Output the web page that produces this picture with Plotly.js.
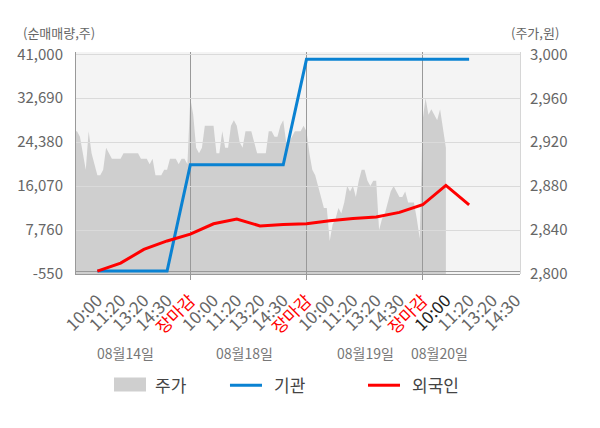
<!DOCTYPE html>
<html>
<head>
<meta charset="utf-8">
<script src="https://cdn.plot.ly/plotly-3.0.1.min.js"></script>
<style>html,body{margin:0;padding:0;background:#fff;}#chart{width:600px;height:428px;}</style>
</head>
<body>
<div id="chart"></div>
<script>
// ---- data ----
const dayLabels = ['08월14일', '08월18일', '08월19일', '08월20일'];
const timeLabels = ['10:00', '11:20', '13:20', '14:30', '장마감'];

// stock price (won), sampled 40 times per trading day
const price0814 = [2930,2930,2925,2910,2895,2930,2910,2900,2890,2890,
                   2895,2915,2910,2905,2905,2905,2905,2910,2910,2910,
                   2910,2910,2910,2905,2905,2905,2900,2905,2890,2890,
                   2890,2895,2895,2905,2905,2905,2900,2905,2905,2900];
const price0818 = [2960,2945,2915,2910,2915,2935,2935,2935,2935,2910,
                   2910,2930,2915,2915,2935,2940,2935,2920,2915,2930,
                   2930,2930,2920,2910,2910,2910,2910,2930,2930,2925,
                   2925,2935,2940,2920,2920,2925,2930,2930,2930,2935];
const price0819 = [2930,2910,2895,2890,2880,2870,2860,2860,2830,2845,
                   2850,2860,2855,2865,2880,2875,2880,2870,2885,2895,
                   2895,2885,2880,2885,2885,2840,2850,2855,2865,2875,
                   2880,2875,2870,2870,2875,2865,2865,2865,2850,2832];
const price0820 = [2940,2960,2945,2950,2945,2940,2950,2930,2915];

// net buying volume (shares), one value per time label slot
const foreignNet = [0,1500,4100,5700,7000,8950,9850,8550,8800,8950,9500,9950,10230,11100,12540,16200,12540];
const instNet    = [0,0,0,0,20100,20100,20100,20100,20100,40050,40050,40050,40050,40050,40050,40100,40050];

const leftTicks  = [-550, 7760, 16070, 24380, 32690, 41000];
const rightTicks = [2800, 2840, 2880, 2920, 2960, 3000];

// ---- build ----
const fmt = v => v.toLocaleString('en-US');
const slotsPerDay = timeLabels.length;      // 5 label slots per day
const priceDays = [price0814, price0818, price0819, price0820];
const samplesPerDay = 40;
const px = [], py = [];
priceDays.forEach((arr, d) => {
  arr.forEach((v, i) => {
    px.push(d * slotsPerDay + i * slotsPerDay / samplesPerDay);
    py.push(v);
  });
});
const flowX = foreignNet.map((_, i) => i + 1);

const tickvals = [], ticktext = [];
const xMax = 19.19;
for (let d = 0; d < dayLabels.length; d++) {
  timeLabels.forEach((t, k) => {
    const v = d * slotsPerDay + k + 1;
    if (v > xMax) return;
    tickvals.push(v);
    let txt = t;
    if (t === '장마감') txt = '<span style="color:#ff0000">' + t + '</span>';
    else if (d === dayLabels.length - 1 && k === 0) txt = '<span style="color:#222">' + t + '</span>';
    ticktext.push(txt);
  });
}
const dayBounds = [];
for (let d = 1; d < dayLabels.length; d++) dayBounds.push(d * slotsPerDay);

const font = '"Noto Sans CJK KR", "Noto Sans", sans-serif';
const xr = [0.08, xMax];

const traces = [
  { x: px, y: py, xaxis: 'x', yaxis: 'y', type: 'scatter', mode: 'lines',
    fill: 'tozeroy', fillcolor: '#cfcfcf', line: { width: 0, color: '#cfcfcf' },
    name: '주가', showlegend: false, hoverinfo: 'skip' },
  { x: flowX, y: instNet, xaxis: 'x2', yaxis: 'y2', type: 'scatter', mode: 'lines',
    line: { color: '#0a82d2', width: 3 }, name: '기관', showlegend: false },
  { x: flowX, y: foreignNet, xaxis: 'x2', yaxis: 'y2', type: 'scatter', mode: 'lines',
    line: { color: '#ff0000', width: 3 }, name: '외국인', showlegend: false }
];

const dateAnnX = [2.19, 7.35, 12.52, 15.74];
const annotations = dayLabels.map((t, i) => ({
  text: t, x: dateAnnX[i], xref: 'x2', y: -0.354, yref: 'paper',
  showarrow: false, xanchor: 'center', yanchor: 'middle',
  font: { family: font, size: 14, color: '#777' }
}));
annotations.push(
  { text: '(순매매량,주)', x: -0.123, xref: 'paper', y: 1.086, yref: 'paper', showarrow: false,
    xanchor: 'left', yanchor: 'middle', font: { family: font, size: 13, color: '#666' } },
  { text: '(주가,원)', x: 0.975, xref: 'paper', y: 1.086, yref: 'paper', showarrow: false,
    xanchor: 'left', yanchor: 'middle', font: { family: font, size: 13, color: '#666' } },
  { text: '주가', x: 0.1734, xref: 'paper', y: -0.498, yref: 'paper', showarrow: false,
    xanchor: 'left', yanchor: 'middle', font: { family: font, size: 17, color: '#444' } },
  { text: '기관', x: 0.4408, xref: 'paper', y: -0.498, yref: 'paper', showarrow: false,
    xanchor: 'left', yanchor: 'middle', font: { family: font, size: 17, color: '#444' } },
  { text: '외국인', x: 0.7523, xref: 'paper', y: -0.498, yref: 'paper', showarrow: false,
    xanchor: 'left', yanchor: 'middle', font: { family: font, size: 17, color: '#444' } }
);

const shapes = [
  { type: 'rect', xref: 'paper', yref: 'paper', x0: 0, x1: 1, y0: 0, y1: 1, layer: 'below',
    fillcolor: '#f4f4f4', line: { width: 0 } },
  { type: 'rect', xref: 'paper', yref: 'paper', x0: 0.0856, x1: 0.1577, y0: -0.5295, y1: -0.4665,
    fillcolor: '#cfcfcf', line: { width: 0 } },
  { type: 'line', xref: 'paper', yref: 'paper', x0: 0.3468, x1: 0.4189, y0: -0.501, y1: -0.501,
    line: { color: '#0a82d2', width: 3 } },
  { type: 'line', xref: 'paper', yref: 'paper', x0: 0.6577, x1: 0.7297, y0: -0.501, y1: -0.501,
    line: { color: '#ff0000', width: 3 } }
];

const layout = {
  width: 600, height: 428,
  margin: { l: 76, r: 80, t: 52, b: 153.7, pad: 0 },
  paper_bgcolor: '#ffffff', plot_bgcolor: 'rgba(0,0,0,0)',
  showlegend: false,
  font: { family: font, color: '#666' },
  xaxis: { anchor: 'y', range: xr, showgrid: false, zeroline: false, showline: false,
           showticklabels: false, ticks: '' },
  yaxis: { anchor: 'x', side: 'right', range: [2800, 3002.1], tickmode: 'array', tickvals: rightTicks,
           ticktext: rightTicks.map(fmt), showgrid: false, zeroline: false, showline: true, linecolor: '#d6d6d6',
           ticks: '', ticklabelstandoff: 6, tickfont: { family: font, size: 15, color: '#666' } },
  xaxis2: { anchor: 'y2', range: xr, tickmode: 'array', tickvals: tickvals, ticktext: ticktext,
            tickangle: -45, ticks: '', ticklabelstandoff: 9, showgrid: false, zeroline: false,
            showline: true, linecolor: '#999',
            tickfont: { family: font, size: 17, color: '#666' },
            minor: { tickmode: 'array', tickvals: dayBounds, ticks: 'outside', ticklen: 5,
                     tickcolor: '#999', showgrid: true, gridcolor: '#999', gridwidth: 1 } },
  yaxis2: { anchor: 'x2', side: 'left', range: [-550, 41434], tickmode: 'array', tickvals: leftTicks,
            ticktext: leftTicks.map(fmt), showgrid: true, gridcolor: '#dadada', zeroline: true,
            zerolinecolor: '#999', zerolinewidth: 1, showline: true, linecolor: '#999', ticks: '',
            ticklabelstandoff: 9, tickfont: { family: font, size: 15, color: '#666' } },
  annotations: annotations,
  shapes: shapes
};

Plotly.newPlot('chart', traces, layout, { staticPlot: true, displayModeBar: false });
</script>
</body>
</html>
